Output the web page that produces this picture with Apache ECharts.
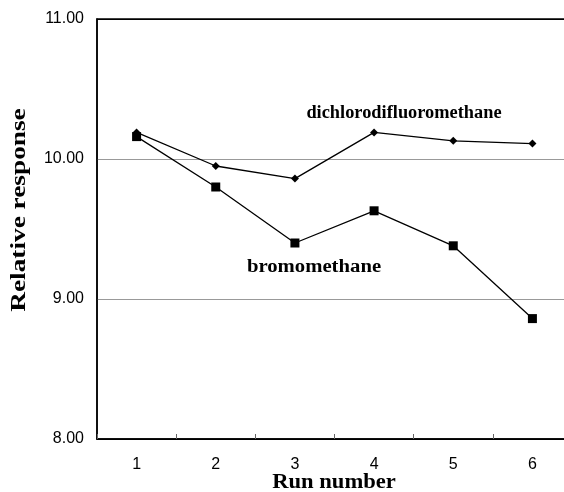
<!DOCTYPE html>
<html>
<head>
<meta charset="utf-8">
<script src="https://cdn.jsdelivr.net/npm/echarts@6/dist/echarts.min.js"></script>
<style>
  html, body { margin: 0; padding: 0; background: #fff; }
  #chart { width: 564px; height: 492px; }
</style>
</head>
<body>
<div id="chart"></div>
<script>
const runs = ['1', '2', '3', '4', '5', '6'];
const dichlorodifluoromethane = [10.19, 9.95, 9.86, 10.19, 10.13, 10.11];
const bromomethane = [10.16, 9.80, 9.40, 9.63, 9.38, 8.86];
const yTicks = [8, 9, 10, 11];

const chart = echarts.init(document.getElementById('chart'));
const serif = '"Liberation Serif", "Times New Roman", serif';
const sans = '"Liberation Sans", Arial, sans-serif';

const option = {
  animation: false,
  grid: {
    left: 97, top: 19, right: -8, bottom: 53,
    outerBoundsMode: 'none',
    containLabel: false,
    show: true, borderColor: '#000', borderWidth: 1.5
  },
  xAxis: {
    type: 'category',
    data: runs,
    boundaryGap: true,
    axisLine: { lineStyle: { color: '#000', width: 1.5 } },
    axisTick: { show: true, inside: true, length: 5, lineStyle: { color: '#666' } },
    axisLabel: { fontFamily: sans, fontSize: 16, color: '#000', margin: 18 },
    splitLine: { show: false }
  },
  yAxis: {
    type: 'value',
    min: yTicks[0],
    max: yTicks[yTicks.length - 1],
    interval: 1,
    axisLine: { show: true, lineStyle: { color: '#000', width: 1.5 } },
    axisTick: { show: false },
    axisLabel: {
      fontFamily: sans, fontSize: 16, color: '#000', margin: 13,
      formatter: v => v.toFixed(2)
    },
    splitLine: { show: true, lineStyle: { color: ['#000', '#999', '#999', '#000'], width: 1 } }
  },
  series: [
    {
      name: 'dichlorodifluoromethane',
      type: 'line',
      data: dichlorodifluoromethane,
      symbol: 'diamond',
      symbolSize: 8,
      itemStyle: { color: '#000' },
      lineStyle: { color: '#000', width: 1.3 }
    },
    {
      name: 'bromomethane',
      type: 'line',
      data: bromomethane,
      symbol: 'rect',
      symbolSize: 9,
      itemStyle: { color: '#000' },
      lineStyle: { color: '#000', width: 1.3 }
    }
  ],
  graphic: [
    // series labels (the scan is a little stretched sideways)
    {
      type: 'text', x: 404, y: 113, scaleX: 1.02,
      style: { text: 'dichlorodifluoromethane', font: 'bold 18px ' + serif, fill: '#000',
               textAlign: 'center', textVerticalAlign: 'middle' }
    },
    {
      type: 'text', x: 314, y: 267, scaleX: 1.15,
      style: { text: 'bromomethane', font: 'bold 18px ' + serif, fill: '#000',
               textAlign: 'center', textVerticalAlign: 'middle' }
    },
    // axis names
    {
      type: 'text', x: 334, y: 483, scaleX: 1.13,
      style: { text: 'Run number', font: 'bold 20px ' + serif, fill: '#000',
               textAlign: 'center', textVerticalAlign: 'middle' }
    },
    {
      type: 'text', x: 20, y: 210, rotation: Math.PI / 2, scaleX: 1.3,
      style: { text: 'Relative response', font: 'bold 21px ' + serif, fill: '#000',
               textAlign: 'center', textVerticalAlign: 'middle' }
    }
  ]
};
chart.setOption(option);
</script>
</body>
</html>
